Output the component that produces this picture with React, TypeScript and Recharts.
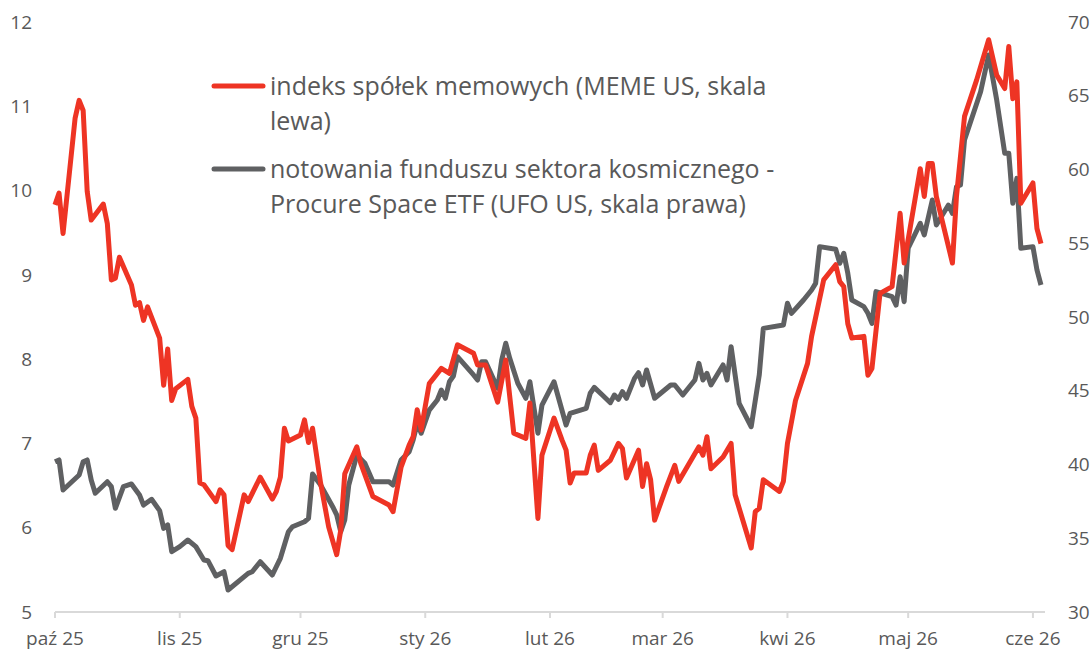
import React from "react";
import { LineChart, Line, XAxis, YAxis } from "recharts";

// the picture spans the whole window, so the page margin is removed and replaced by the wrapper's padding
if (typeof document !== "undefined") {
  document.body.style.margin = "0";
}

// x values are calendar days counted from 2025-10-01
const monthTicks = [0, 31, 61, 92, 123, 151, 182, 212, 243];
const monthLabels = ["paź 25", "lis 25", "gru 25", "sty 26", "lut 26", "mar 26", "kwi 26", "maj 26", "cze 26"];

const leftTicks = [5, 6, 7, 8, 9, 10, 11, 12];
const rightTicks = [30, 35, 40, 45, 50, 55, 60, 65, 70];

// indeks spółek memowych (MEME US) – left scale
const memeDays = [
  0, 1, 2, 5, 6, 7, 8, 9, 12, 13, 14, 15, 16, 19, 20, 21, 22, 23, 26, 27, 28, 29, 30, 33, 34, 35, 36, 37, 40, 41,
  42, 43, 44, 47, 48, 51, 54, 55, 56, 57, 58, 61, 62, 63, 64, 66, 68, 70, 71, 72, 75, 76, 79, 83, 84, 86, 88, 89, 90, 91,
  92, 93, 96, 98, 100, 104, 105, 107, 110, 112, 114, 117, 118, 120, 121, 124, 126, 127, 128, 129, 132, 133, 134, 135, 138, 140, 141, 142, 145, 146,
  147, 148, 149, 152, 154, 155, 160, 161, 162, 163, 166, 168, 169, 173, 174, 175, 176, 180, 181, 182, 184, 187, 188, 191, 194, 195, 196, 197, 198, 201,
  202, 203, 205, 208, 210, 211, 215, 216, 217, 218, 219, 223, 224, 226, 229, 232, 234, 236, 237, 238, 239, 240, 243, 244, 245,
];
const memeValues = [
  9.83, 9.97, 9.49, 10.86, 11.07, 10.95, 9.99, 9.65, 9.84, 9.61, 8.94, 8.96, 9.21, 8.88, 8.64, 8.67, 8.46, 8.62, 8.25, 7.69, 8.12, 7.51, 7.65, 7.76, 7.44, 7.3, 6.53, 6.51, 6.31, 6.45,
  6.39, 5.79, 5.74, 6.39, 6.31, 6.6, 6.34, 6.43, 6.6, 7.18, 7.03, 7.1, 7.28, 7.01, 7.18, 6.53, 6.01, 5.68, 5.97, 6.64, 6.96, 6.76, 6.37, 6.27, 6.19, 6.72, 6.98, 7.08, 7.4, 7.16,
  7.44, 7.71, 7.89, 7.83, 8.17, 8.07, 7.93, 7.93, 7.49, 7.99, 7.12, 7.06, 7.48, 6.11, 6.86, 7.3, 7.04, 6.92, 6.53, 6.65, 6.65, 6.86, 6.98, 6.68, 6.8, 7.0, 6.94, 6.59, 6.92, 6.49,
  6.76, 6.57, 6.09, 6.49, 6.74, 6.55, 6.96, 6.86, 7.08, 6.7, 6.84, 7.0, 6.39, 5.76, 6.19, 6.23, 6.57, 6.43, 6.55, 7.0, 7.51, 7.95, 8.27, 8.94, 9.12, 8.92, 8.86, 8.42, 8.25, 8.27,
  7.81, 7.89, 8.78, 8.86, 9.73, 9.14, 10.26, 9.93, 10.32, 10.32, 9.93, 9.14, 9.93, 10.88, 11.31, 11.79, 11.37, 11.21, 11.71, 11.09, 11.29, 9.85, 10.09, 9.55, 9.37,
];

// Procure Space ETF (UFO US) – right scale
const ufoDays = [
  0, 1, 2, 6, 7, 8, 9, 10, 13, 14, 15, 17, 19, 21, 22, 24, 26, 27, 28, 29, 31, 33, 35, 37, 38, 40, 42, 43, 48, 49,
  51, 54, 56, 58, 59, 62, 63, 64, 66, 69, 70, 71, 72, 73, 75, 77, 79, 83, 84, 86, 88, 89, 90, 91, 93, 95, 96, 97, 98, 99,
  100, 104, 105, 106, 107, 110, 111, 112, 113, 115, 117, 118, 120, 121, 124, 127, 128, 132, 133, 134, 136, 138, 139, 140, 141, 142, 144, 145, 146, 147,
  149, 153, 154, 156, 159, 160, 161, 162, 163, 166, 167, 168, 170, 173, 175, 176, 181, 182, 183, 186, 188, 189, 190, 194, 195, 196, 197, 198, 201, 202,
  203, 204, 208, 209, 210, 211, 212, 215, 216, 218, 219, 222, 223, 224, 225, 226, 230, 232, 234, 236, 237, 238, 239, 240, 243, 244, 245,
];
const ufoValues = [
  40.19, 40.31, 38.27, 39.29, 40.19, 40.31, 38.95, 38.05, 38.83, 38.5, 37.03, 38.5, 38.68, 37.93, 37.25, 37.64, 36.87, 35.67, 35.9, 34.09, 34.43, 34.88, 34.43, 33.53, 33.48, 32.44, 32.73, 31.49, 32.62, 32.73,
  33.41, 32.51, 33.64, 35.44, 35.78, 36.12, 36.35, 39.36, 38.61, 37.14, 36.58, 35.44, 36.24, 38.61, 40.64, 40.08, 38.83, 38.83, 38.61, 40.31, 40.87, 41.66, 42.79, 42.12, 43.69, 44.37, 45.05, 44.49, 45.61, 46.0,
  47.31, 46.07, 45.73, 46.97, 46.97, 45.17, 47.08, 48.22, 47.2, 45.51, 44.49, 45.61, 42.12, 44.03, 45.61, 42.68, 43.47, 43.81, 44.83, 45.23, 44.71, 44.19, 44.71, 44.42, 44.94, 44.49, 45.84, 46.22, 45.39, 46.41,
  44.49, 45.39, 45.39, 44.71, 45.73, 46.86, 45.73, 46.18, 45.39, 46.75, 45.73, 47.99, 44.15, 42.56, 46.07, 49.23, 49.46, 50.93, 50.25, 51.15, 51.83, 52.28, 54.77, 54.59, 53.64, 54.32, 52.96, 51.15, 50.7, 50.25,
  49.57, 51.72, 51.38, 50.81, 52.73, 51.04, 54.66, 56.35, 55.56, 57.93, 56.24, 57.59, 57.03, 58.83, 58.95, 62.0, 65.27, 67.76, 64.71, 61.1, 61.1, 57.71, 59.4, 54.66, 54.77, 53.19, 52.17,
];

const memeLabel = ["indeks spółek memowych (MEME US, skala", "lewa)"];
const ufoLabel = ["notowania funduszu sektora kosmicznego -", "Procure Space ETF (UFO US, skala prawa)"];

const RED = "#EE3424";
const GRAY = "#5F6062";
const TEXT = "#595959";
const FONT = "'Open Sans', sans-serif";

const memeData = memeDays.map((d, i) => ({ day: d, meme: memeValues[i] }));
const ufoData = ufoDays.map((d, i) => ({ day: d, ufo: ufoValues[i] }));

const tickStyle = { fill: TEXT, fontSize: 19, fontFamily: FONT };

function LegendEntry({ top, color, lines }: { top: number; color: string; lines: string[] }) {
  return (
    <>
      <svg style={{ position: "absolute", left: 208, top: top + 10, overflow: "visible" }} width={60} height={16}>
        <line x1={6} y1={8} x2={55} y2={8} stroke={color} strokeWidth={5} strokeLinecap="round" />
      </svg>
      <div
        style={{
          position: "absolute",
          left: 270,
          top: top,
          fontFamily: FONT,
          fontSize: 25,
          lineHeight: "34.5px",
          color: TEXT,
          whiteSpace: "nowrap",
        }}
      >
        {lines.map((l, i) => (
          <div key={i}>{l}</div>
        ))}
      </div>
    </>
  );
}

export default function App() {
  React.useLayoutEffect(() => {
    document.body.style.margin = "0";
  }, []);
  return (
    <div style={{ position: "relative", width: 1091, height: 652, boxSizing: "border-box", padding: 8, background: "#fff" }}>
      <LineChart width={1083} height={644} margin={{ top: 14, right: 0, left: 0, bottom: 0 }}>
        <XAxis
          dataKey="day"
          type="number"
          domain={[0, 246]}
          ticks={monthTicks}
          interval={0}
          tickFormatter={(v: number) => monthLabels[monthTicks.indexOf(v)] ?? ""}
          axisLine={{ stroke: "#d9d9d9", strokeWidth: 2 }}
          tickLine={{ stroke: "#d9d9d9", strokeWidth: 2 }}
          tickSize={6}
          tickMargin={14}
          height={40}
          tick={tickStyle}
          allowDuplicatedCategory={false}
        />
        <YAxis
          yAxisId="left"
          domain={[5, 12]}
          ticks={leftTicks}
          interval={0}
          axisLine={false}
          tickLine={false}
          width={47}
          tickMargin={17}
          tick={tickStyle}
        />
        <YAxis
          yAxisId="right"
          orientation="right"
          domain={[30, 70]}
          ticks={rightTicks}
          interval={0}
          axisLine={false}
          tickLine={false}
          width={46}
          tickMargin={17}
          tick={{ ...tickStyle, textAnchor: "start" }}
        />
        <Line
          yAxisId="right"
          data={ufoData}
          dataKey="ufo"
          type="linear"
          stroke={GRAY}
          strokeWidth={5}
          strokeLinejoin="round"
          dot={false}
          activeDot={false}
          isAnimationActive={false}
        />
        <Line
          yAxisId="left"
          data={memeData}
          dataKey="meme"
          type="linear"
          stroke={RED}
          strokeWidth={5}
          strokeLinejoin="round"
          dot={false}
          activeDot={false}
          isAnimationActive={false}
        />
      </LineChart>
      <LegendEntry top={68} color={RED} lines={memeLabel} />
      <LegendEntry top={151} color={GRAY} lines={ufoLabel} />
    </div>
  );
}
